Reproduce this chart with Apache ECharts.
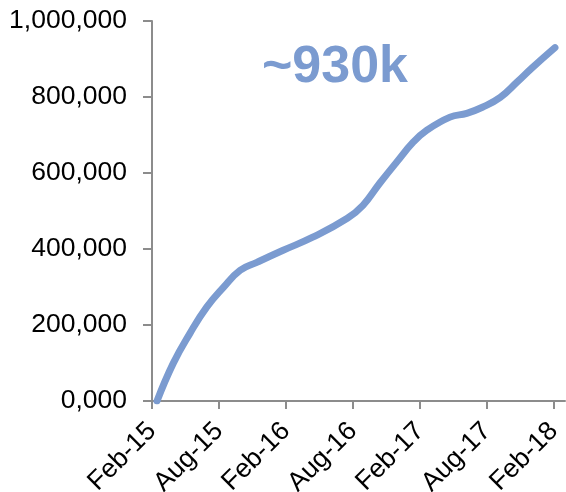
<!DOCTYPE html>
<html>
<head>
<meta charset="utf-8">
<script src="https://cdn.jsdelivr.net/npm/echarts@6/dist/echarts.min.js"></script>
<style>
  html, body { margin: 0; padding: 0; background: #ffffff; }
  #chart { width: 566px; height: 492px; }
</style>
</head>
<body>
<div id="chart"></div>
<script>
// Months counted from Feb-15 (0) to Feb-18 (36)
const months = [0.45, 1.9, 3.4, 4.9, 6.4, 7.9, 9.4, 11.7, 14.4, 17.5, 18.9, 20.4,
  21.9, 23.4, 24.6, 26.7, 28.2, 29.6, 31.2, 32.7, 34.1, 36.1];
// Cumulative total at each reading
const totals = [0, 99000, 178000, 247000, 299000, 344000, 365000, 396000, 431000,
  481000, 515000, 573000, 628000, 681000, 712000, 747000, 757000, 773000, 799000,
  839000, 878000, 930000];
// Labels for the six-monthly ticks
const tickLabels = ['Feb-15', 'Aug-15', 'Feb-16', 'Aug-16', 'Feb-17', 'Aug-17', 'Feb-18'];
const headline = '~930k';

const lineColor = '#7b9bd0';
const axisColor = '#8c8c8c';
const font = 'Liberation Sans, Arial, sans-serif';

function fmtNumber(v) {
  if (v === 0) return '0,000';
  return String(v).replace(/\B(?=(\d{3})+(?!\d))/g, ',');
}

const chart = echarts.init(document.getElementById('chart'), null, { renderer: 'canvas' });
chart.setOption({
  animation: false,
  grid: { left: 152, right: 1, top: 21, bottom: 91, containLabel: false, outerBoundsMode: 'none' },
  xAxis: {
    type: 'value',
    min: 0,
    max: 37,
    interval: 6,
    splitLine: { show: false },
    axisLine: { show: true, onZero: false, lineStyle: { color: axisColor, width: 2 } },
    axisTick: { show: true, length: 8, lineStyle: { color: axisColor, width: 2 } },
    axisLabel: {
      rotate: 45,
      margin: 26,
      padding: [17, 0, 0, 0],
      color: '#000',
      fontFamily: font,
      fontSize: 26.5,
      showMaxLabel: false,
      formatter: v => tickLabels[v / 6] || ''
    }
  },
  yAxis: {
    type: 'value',
    min: 0,
    max: 1000000,
    interval: 200000,
    splitLine: { show: false },
    axisLine: { show: true, lineStyle: { color: axisColor, width: 2 } },
    axisTick: { show: true, length: 9, lineStyle: { color: axisColor, width: 2 } },
    axisLabel: {
      margin: 25,
      color: '#000',
      fontFamily: font,
      fontSize: 26.5,
      formatter: fmtNumber
    }
  },
  series: [{
    type: 'line',
    data: months.map((m, i) => [m, totals[i]]),
    smooth: 0.45,
    showSymbol: false,
    lineStyle: { color: lineColor, width: 7, cap: 'round', join: 'round' }
  }],
  graphic: [{
    type: 'text',
    x: 335,
    y: 68,
    style: {
      text: headline,
      fill: lineColor,
      font: 'bold 52px ' + font,
      textAlign: 'center',
      textVerticalAlign: 'middle'
    }
  }]
});
</script>
</body>
</html>
